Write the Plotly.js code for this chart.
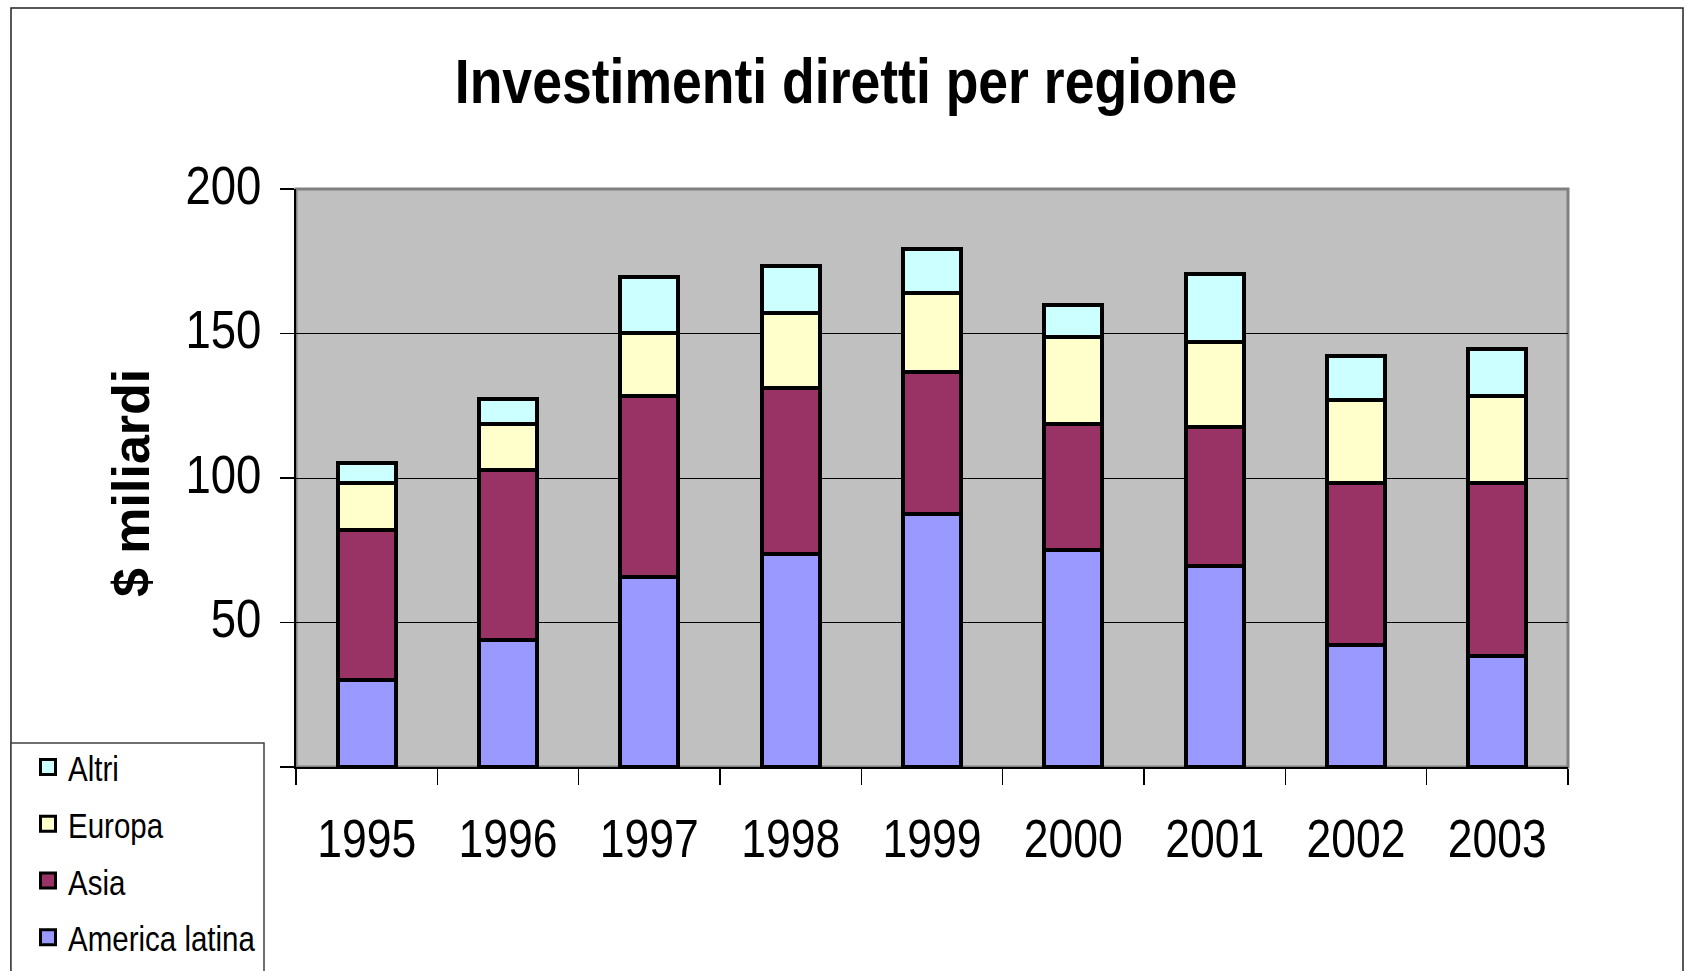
<!DOCTYPE html>
<html>
<head>
<meta charset="utf-8">
<script src="https://cdn.plot.ly/plotly-3.0.1.min.js"></script>
<style>
html,body{margin:0;padding:0;background:#fff;}
#chart{width:1686px;height:971px;}
</style>
</head>
<body>
<div id="chart"></div>
<script>
// ---- data ----
const years = ["1995","1996","1997","1998","1999","2000","2001","2002","2003"];
const americaLatina = [30.2, 44.0, 65.7, 73.8, 87.5, 75.0, 69.7, 42.3, 38.4];
const asia          = [51.8, 58.6, 62.8, 57.3, 49.1, 43.8, 47.9, 56.1, 60.0];
const europa        = [16.3, 16.2, 21.7, 26.0, 27.4, 30.0, 29.6, 28.7, 30.1];
const altri         = [ 6.8,  8.4, 19.2, 16.4, 15.1, 11.0, 23.3, 15.1, 16.3];
const seriesNames = ["America latina", "Asia", "Europa", "Altri"];
const legendRanks = [4, 3, 2, 1];
const yTickVals = [0, 50, 100, 150, 200];
const yTickText = ["", "50", "100", "150", "200"];
const titleText = "Investimenti diretti per regione";
const yTitleText = "$ miliardi";

// ---- styles ----
const colors = ["#9999FF", "#993366", "#FFFFCC", "#CCFFFF"];
const font = "'Liberation Sans', Arial, sans-serif";

const W = 1686, H = 971;
const M = {l: 296, r: 118, t: 189, b: 204, autoexpand: false};
const pw = W - M.l - M.r, ph = H - M.t - M.b;
const px = v => (v - M.l) / pw;
const py = v => (H - M.b - v) / ph;

const values = [americaLatina, asia, europa, altri];
const traces = values.map((vals, i) => ({
  type: "bar",
  name: seriesNames[i],
  x: years,
  y: vals,
  legendgroup: "g" + i,
  legendrank: legendRanks[i],
  marker: {color: colors[i], line: {color: "#000", width: 4}},
  hoverinfo: "x+y+name"
}));

const layout = {
  width: W, height: H,
  margin: M,
  barmode: "stack",
  bargap: 0.59,
  paper_bgcolor: "#fff",
  plot_bgcolor: "#C0C0C0",
  showlegend: true,
  title: {
    text: titleText,
    font: {family: font, size: 63, color: "#000", weight: "bold"},
    xref: "container", yref: "container",
    x: 846 / W, xanchor: "center",
    y: 1 - 81 / H, yanchor: "middle"
  },
  xaxis: {
    type: "category",
    showline: true, linecolor: "#000", linewidth: 2,
    ticks: "outside", ticklen: 16, tickwidth: 1.5, tickcolor: "#000",
    tickson: "boundaries",
    ticklabelstandoff: 24,
    tickfont: {family: font, size: 53, color: "#000"},
    showgrid: false, zeroline: false
  },
  yaxis: {
    range: [0, 200],
    tickmode: "array", tickvals: yTickVals, ticktext: yTickText,
    showline: true, linecolor: "#000", linewidth: 2,
    ticks: "outside", ticklen: 14, tickwidth: 1.5, tickcolor: "#000",
    ticklabelstandoff: 8,
    tickfont: {family: font, size: 53, color: "#000"},
    showgrid: true, gridcolor: "#000", gridwidth: 1,
    zeroline: false
  },
  annotations: [
    {text: yTitleText, xref: "paper", yref: "paper",
     x: px(131), y: py(483), xanchor: "center", yanchor: "middle",
     textangle: -90, showarrow: false,
     font: {family: font, size: 52, color: "#000", weight: "bold"}}
  ],
  legend: {
    xref: "container", yref: "container",
    x: 28 / W, xanchor: "left",
    y: 1 - 737 / H, yanchor: "top",
    bgcolor: "rgba(0,0,0,0)", borderwidth: 0,
    traceorder: "grouped", tracegroupgap: 7,
    font: {family: font, size: 36, color: "#000"}
  },
  shapes: [
    // outer chart border
    {type: "rect", xref: "paper", yref: "paper", layer: "below",
     x0: px(11), x1: px(1683), y0: py(1010), y1: py(8),
     line: {color: "#222", width: 1.5}, fillcolor: "rgba(0,0,0,0)"},
    // plot area border (grey)
    {type: "rect", xref: "paper", yref: "paper", layer: "below",
     x0: 0, x1: 1, y0: 0, y1: 1,
     line: {color: "#808080", width: 3}, fillcolor: "rgba(0,0,0,0)"},
    // legend box
    {type: "rect", xref: "paper", yref: "paper", layer: "above",
     x0: px(11), x1: px(264), y0: py(1010), y1: py(743),
     line: {color: "#404040", width: 1.5}, fillcolor: "#fff"}
  ]
};

// the reference text is horizontally condensed: squash text glyphs about their anchor
function squash(sel, sx, dy) {
  document.querySelectorAll(sel).forEach(el => {
    const x = parseFloat(el.getAttribute("x")) || 0;
    const y = parseFloat(el.getAttribute("y")) || 0;
    const t = el.getAttribute("transform") || "";
    el.setAttribute("transform",
      t + " translate(" + x + "," + (y + (dy || 0)) + ") scale(" + sx + ",1) translate(" + (-x) + "," + (-y) + ")");
  });
}

Plotly.newPlot("chart", traces, layout, {staticPlot: true}).then(() => {
  squash("#chart .gtitle", 0.85, 0);
  squash("#chart .xtick text", 0.84, 0);
  squash("#chart .ytick text", 0.86, -4);
  squash("#chart .legendtext", 0.82, 0);
  document.querySelectorAll("#chart .legendpoints path").forEach(p => {
    p.setAttribute("d", "M7.5,7.5H-7.5V-7.5H7.5Z");
    p.style.strokeWidth = "3px";
    p.style.stroke = "#000";
  });
});
</script>
</body>
</html>
